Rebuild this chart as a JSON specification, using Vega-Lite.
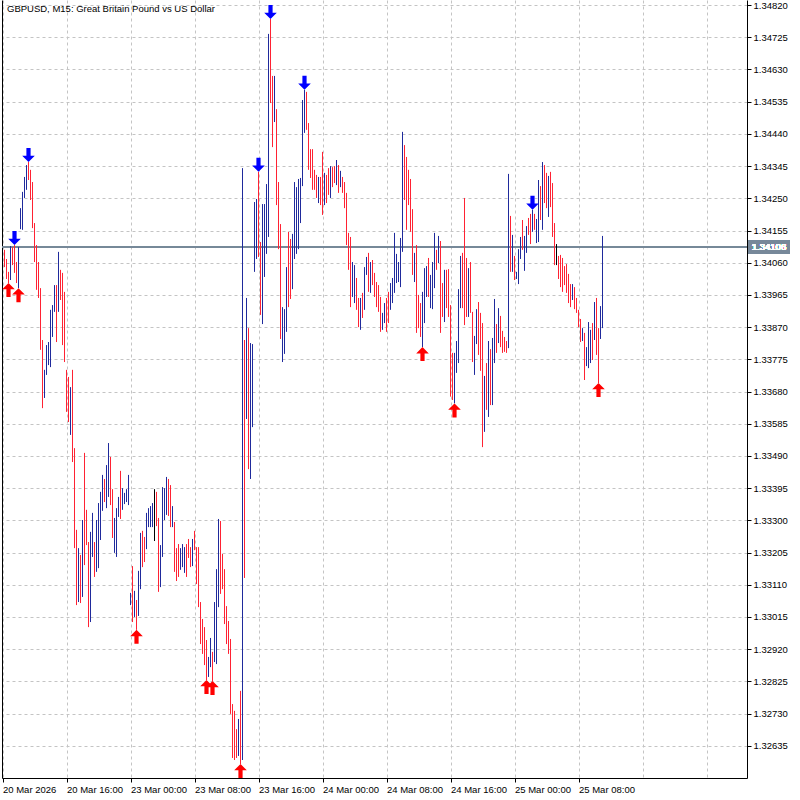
{
  "$schema": "https://vega.github.io/schema/vega-lite/v6.json",
  "width": 745,
  "height": 778,
  "autosize": {"type": "none"},
  "padding": {"left": 2, "top": 0, "right": 53, "bottom": 22},
  "background": "white",
  "config": {
    "view": {"stroke": null},
    "font": "Liberation Sans",
    "axis": {"labelFont": "Liberation Sans", "labelFontSize": 9.5, "labelColor": "black", "domainColor": "black", "tickColor": "black", "gridColor": "#c4c4c4", "gridDash": [3, 3], "title": null}
  },
  "title": {"text": "GBPUSD, M15:  Great Britain Pound vs US Dollar", "anchor": "start", "frame": "group", "orient": "top", "offset": -13, "dx": 5, "font": "Liberation Sans", "fontSize": 9.5, "fontWeight": "normal", "color": "black"},
  "data": {"values": [
    {"k":1,"d":"dn","h":1.34098,"l":1.34047},
    {"k":2,"d":"dn","h":1.34071,"l":1.34012},
    {"k":3,"d":"dn","h":1.34033,"l":1.34000,"f":"lo"},
    {"k":4,"d":"up","h":1.34109,"l":1.34009},
    {"k":5,"d":"dn","h":1.34106,"l":1.34053},
    {"k":6,"d":"dn","h":1.34112,"l":1.34030,"f":"hi"},
    {"k":7,"d":"dn","h":1.34062,"l":1.34000},
    {"k":8,"d":"up","h":1.34106,"l":1.33985,"f":"lo"},
    {"k":9,"d":"up","h":1.34221,"l":1.34159},
    {"k":10,"d":"up","h":1.34269,"l":1.34157},
    {"k":11,"d":"up","h":1.34313,"l":1.34251},
    {"k":12,"d":"up","h":1.34348,"l":1.34275},
    {"k":13,"d":"dn","h":1.34357,"l":1.34304,"f":"hi"},
    {"k":14,"d":"dn","h":1.34334,"l":1.34245},
    {"k":15,"d":"dn","h":1.34298,"l":1.34162},
    {"k":16,"d":"dn","h":1.34177,"l":1.34062},
    {"k":17,"d":"dn","h":1.34112,"l":1.33980},
    {"k":18,"d":"dn","h":1.34062,"l":1.33956},
    {"k":19,"d":"dn","h":1.33985,"l":1.33803},
    {"k":20,"d":"dn","h":1.33832,"l":1.33631},
    {"k":21,"d":"up","h":1.33744,"l":1.33661},
    {"k":22,"d":"up","h":1.33817,"l":1.33729},
    {"k":23,"d":"up","h":1.33826,"l":1.33758},
    {"k":24,"d":"up","h":1.33921,"l":1.33752},
    {"k":25,"d":"up","h":1.33935,"l":1.33841},
    {"k":26,"d":"up","h":1.33994,"l":1.33915},
    {"k":27,"d":"dn","h":1.33994,"l":1.33826},
    {"k":28,"d":"up","h":1.34092,"l":1.33915},
    {"k":29,"d":"dn","h":1.34039,"l":1.33950},
    {"k":30,"d":"dn","h":1.34030,"l":1.33817},
    {"k":31,"d":"dn","h":1.33974,"l":1.33767},
    {"k":32,"d":"dn","h":1.33744,"l":1.33620},
    {"k":33,"d":"dn","h":1.33723,"l":1.33590},
    {"k":34,"d":"up","h":1.33693,"l":1.33552},
    {"k":35,"d":"dn","h":1.33744,"l":1.33472},
    {"k":36,"d":"dn","h":1.33513,"l":1.33218},
    {"k":37,"d":"dn","h":1.33272,"l":1.33050},
    {"k":38,"d":"up","h":1.33218,"l":1.33059},
    {"k":39,"d":"dn","h":1.33198,"l":1.33056},
    {"k":40,"d":"up","h":1.33301,"l":1.33074},
    {"k":41,"d":"dn","h":1.33499,"l":1.33168},
    {"k":42,"d":"dn","h":1.33331,"l":1.33227},
    {"k":43,"d":"dn","h":1.33236,"l":1.32985},
    {"k":44,"d":"up","h":1.33266,"l":1.33000},
    {"k":45,"d":"up","h":1.33322,"l":1.33192},
    {"k":46,"d":"dn","h":1.33236,"l":1.33133},
    {"k":47,"d":"up","h":1.33301,"l":1.33148},
    {"k":48,"d":"up","h":1.33351,"l":1.33159},
    {"k":49,"d":"up","h":1.33384,"l":1.33242},
    {"k":50,"d":"up","h":1.33434,"l":1.33328},
    {"k":51,"d":"dn","h":1.33422,"l":1.33354},
    {"k":52,"d":"up","h":1.33463,"l":1.33336},
    {"k":53,"d":"up","h":1.33528,"l":1.33369},
    {"k":54,"d":"dn","h":1.33487,"l":1.33345},
    {"k":55,"d":"dn","h":1.33392,"l":1.33248},
    {"k":56,"d":"up","h":1.33307,"l":1.33204},
    {"k":57,"d":"up","h":1.33336,"l":1.33192},
    {"k":58,"d":"up","h":1.33369,"l":1.33310},
    {"k":59,"d":"dn","h":1.33446,"l":1.33304},
    {"k":60,"d":"up","h":1.33395,"l":1.33331},
    {"k":61,"d":"up","h":1.33381,"l":1.33348},
    {"k":62,"d":"up","h":1.33392,"l":1.33354},
    {"k":63,"d":"up","h":1.33434,"l":1.33345},
    {"k":64,"d":"up","h":1.33086,"l":1.33050},
    {"k":65,"d":"dn","h":1.33165,"l":1.33000},
    {"k":66,"d":"up","h":1.33092,"l":1.33015},
    {"k":67,"d":"dn","h":1.33065,"l":1.32977,"f":"lo"},
    {"k":68,"d":"up","h":1.33151,"l":1.33018},
    {"k":69,"d":"up","h":1.33263,"l":1.33097},
    {"k":70,"d":"dn","h":1.33269,"l":1.33162},
    {"k":71,"d":"dn","h":1.33251,"l":1.33177},
    {"k":72,"d":"up","h":1.33322,"l":1.33215},
    {"k":73,"d":"up","h":1.33336,"l":1.33280},
    {"k":74,"d":"up","h":1.33342,"l":1.33280},
    {"k":75,"d":"up","h":1.33351,"l":1.33280},
    {"k":76,"d":"dj","h":1.33392,"l":1.33239},
    {"k":77,"d":"dn","h":1.33384,"l":1.33283},
    {"k":78,"d":"dn","h":1.33307,"l":1.33089},
    {"k":79,"d":"up","h":1.33227,"l":1.33103},
    {"k":80,"d":"up","h":1.33398,"l":1.33192},
    {"k":81,"d":"up","h":1.33395,"l":1.33301},
    {"k":82,"d":"up","h":1.33428,"l":1.33316},
    {"k":83,"d":"dn","h":1.33422,"l":1.33313},
    {"k":84,"d":"dn","h":1.33404,"l":1.33280},
    {"k":85,"d":"up","h":1.33342,"l":1.33280},
    {"k":86,"d":"dn","h":1.33295,"l":1.33148},
    {"k":87,"d":"dn","h":1.33218,"l":1.33121},
    {"k":88,"d":"dn","h":1.33230,"l":1.33133},
    {"k":89,"d":"up","h":1.33218,"l":1.33154},
    {"k":90,"d":"up","h":1.33230,"l":1.33162},
    {"k":91,"d":"up","h":1.33221,"l":1.33145},
    {"k":92,"d":"dn","h":1.33230,"l":1.33133},
    {"k":93,"d":"dn","h":1.33245,"l":1.33189},
    {"k":94,"d":"dn","h":1.33221,"l":1.33162},
    {"k":95,"d":"up","h":1.33245,"l":1.33165},
    {"k":96,"d":"dn","h":1.33269,"l":1.33212},
    {"k":97,"d":"dn","h":1.33221,"l":1.33112},
    {"k":98,"d":"dn","h":1.33221,"l":1.33044},
    {"k":99,"d":"dn","h":1.33059,"l":1.32935},
    {"k":100,"d":"dn","h":1.33009,"l":1.32906},
    {"k":101,"d":"dn","h":1.32985,"l":1.32873},
    {"k":102,"d":"dn","h":1.32947,"l":1.32829,"f":"lo"},
    {"k":103,"d":"up","h":1.32897,"l":1.32838},
    {"k":104,"d":"up","h":1.32953,"l":1.32867},
    {"k":105,"d":"dn","h":1.32912,"l":1.32826,"f":"lo"},
    {"k":106,"d":"up","h":1.33059,"l":1.32882},
    {"k":107,"d":"up","h":1.33156,"l":1.32876},
    {"k":108,"d":"up","h":1.33304,"l":1.33044},
    {"k":109,"d":"dn","h":1.33298,"l":1.33083},
    {"k":110,"d":"dn","h":1.33201,"l":1.33097},
    {"k":111,"d":"dn","h":1.33156,"l":1.32994},
    {"k":112,"d":"dn","h":1.33047,"l":1.32935},
    {"k":113,"d":"dn","h":1.33003,"l":1.32906},
    {"k":114,"d":"dn","h":1.32950,"l":1.32729},
    {"k":115,"d":"dn","h":1.32758,"l":1.32599},
    {"k":116,"d":"dn","h":1.32738,"l":1.32593},
    {"k":117,"d":"dn","h":1.32684,"l":1.32599},
    {"k":118,"d":"up","h":1.32714,"l":1.32605},
    {"k":119,"d":"dn","h":1.32797,"l":1.32581,"f":"lo"},
    {"k":120,"d":"up","h":1.34339,"l":1.32593},
    {"k":121,"d":"dn","h":1.33832,"l":1.33130},
    {"k":122,"d":"up","h":1.33956,"l":1.33599},
    {"k":123,"d":"dn","h":1.33867,"l":1.33451},
    {"k":124,"d":"up","h":1.33823,"l":1.33422},
    {"k":125,"d":"up","h":1.33820,"l":1.33575},
    {"k":126,"d":"up","h":1.34239,"l":1.34033},
    {"k":127,"d":"up","h":1.34248,"l":1.34071},
    {"k":128,"d":"dn","h":1.34328,"l":1.34077,"f":"hi"},
    {"k":129,"d":"dn","h":1.34121,"l":1.33906},
    {"k":130,"d":"up","h":1.34233,"l":1.33879},
    {"k":131,"d":"up","h":1.34233,"l":1.34018},
    {"k":132,"d":"up","h":1.34292,"l":1.34086},
    {"k":133,"d":"up","h":1.34735,"l":1.34136},
    {"k":134,"d":"dn","h":1.34779,"l":1.34531,"f":"hi"},
    {"k":135,"d":"dn","h":1.34611,"l":1.34401},
    {"k":136,"d":"up","h":1.34611,"l":1.34475},
    {"k":137,"d":"dn","h":1.34513,"l":1.34230},
    {"k":138,"d":"dn","h":1.34298,"l":1.34100},
    {"k":139,"d":"dn","h":1.34174,"l":1.33835},
    {"k":140,"d":"up","h":1.33929,"l":1.33767},
    {"k":141,"d":"up","h":1.33923,"l":1.33791},
    {"k":142,"d":"up","h":1.34047,"l":1.33856},
    {"k":143,"d":"dn","h":1.34151,"l":1.33929},
    {"k":144,"d":"dn","h":1.34130,"l":1.33953},
    {"k":145,"d":"up","h":1.34145,"l":1.33982},
    {"k":146,"d":"up","h":1.34298,"l":1.34071},
    {"k":147,"d":"up","h":1.34283,"l":1.34086},
    {"k":148,"d":"up","h":1.34307,"l":1.34100},
    {"k":149,"d":"up","h":1.34310,"l":1.34177},
    {"k":150,"d":"up","h":1.34540,"l":1.34286},
    {"k":151,"d":"up","h":1.34570,"l":1.34443,"f":"hi"},
    {"k":152,"d":"dn","h":1.34564,"l":1.34452},
    {"k":153,"d":"dn","h":1.34472,"l":1.34334},
    {"k":154,"d":"dn","h":1.34395,"l":1.34310},
    {"k":155,"d":"dn","h":1.34395,"l":1.34275},
    {"k":156,"d":"dn","h":1.34334,"l":1.34275},
    {"k":157,"d":"dn","h":1.34319,"l":1.34251},
    {"k":158,"d":"up","h":1.34313,"l":1.34236},
    {"k":159,"d":"dn","h":1.34313,"l":1.34230},
    {"k":160,"d":"dn","h":1.34387,"l":1.34201},
    {"k":161,"d":"up","h":1.34325,"l":1.34230},
    {"k":162,"d":"dn","h":1.34319,"l":1.34236},
    {"k":163,"d":"dn","h":1.34339,"l":1.34260},
    {"k":164,"d":"up","h":1.34345,"l":1.34251},
    {"k":165,"d":"dn","h":1.34342,"l":1.34283},
    {"k":166,"d":"dn","h":1.34345,"l":1.34295},
    {"k":167,"d":"up","h":1.34363,"l":1.34289},
    {"k":168,"d":"dn","h":1.34348,"l":1.34266},
    {"k":169,"d":"up","h":1.34331,"l":1.34283},
    {"k":170,"d":"dn","h":1.34313,"l":1.34266},
    {"k":171,"d":"dn","h":1.34298,"l":1.34221},
    {"k":172,"d":"dn","h":1.34266,"l":1.34112},
    {"k":173,"d":"dn","h":1.34148,"l":1.34039},
    {"k":174,"d":"dn","h":1.34136,"l":1.33929},
    {"k":175,"d":"up","h":1.34062,"l":1.33959},
    {"k":176,"d":"up","h":1.34053,"l":1.33941},
    {"k":177,"d":"dn","h":1.34015,"l":1.33921},
    {"k":178,"d":"dn","h":1.33956,"l":1.33870},
    {"k":179,"d":"up","h":1.33956,"l":1.33862},
    {"k":180,"d":"dn","h":1.33971,"l":1.33897},
    {"k":181,"d":"up","h":1.34047,"l":1.33921},
    {"k":182,"d":"up","h":1.34077,"l":1.34024},
    {"k":183,"d":"dn","h":1.34089,"l":1.33974},
    {"k":184,"d":"up","h":1.34062,"l":1.33971},
    {"k":185,"d":"dn","h":1.34068,"l":1.33994},
    {"k":186,"d":"dn","h":1.34030,"l":1.33959},
    {"k":187,"d":"dn","h":1.34003,"l":1.33929},
    {"k":188,"d":"dn","h":1.33994,"l":1.33915},
    {"k":189,"d":"dn","h":1.33959,"l":1.33856},
    {"k":190,"d":"up","h":1.33912,"l":1.33862},
    {"k":191,"d":"up","h":1.33941,"l":1.33882},
    {"k":192,"d":"dn","h":1.33956,"l":1.33856},
    {"k":193,"d":"dn","h":1.33974,"l":1.33882},
    {"k":194,"d":"up","h":1.34000,"l":1.33921},
    {"k":195,"d":"up","h":1.34015,"l":1.33941},
    {"k":196,"d":"up","h":1.34148,"l":1.33971},
    {"k":197,"d":"up","h":1.34086,"l":1.34000},
    {"k":198,"d":"up","h":1.34062,"l":1.34003},
    {"k":199,"d":"up","h":1.34133,"l":1.33988},
    {"k":200,"d":"up","h":1.34446,"l":1.34092},
    {"k":201,"d":"dn","h":1.34407,"l":1.34245},
    {"k":202,"d":"dn","h":1.34372,"l":1.34157},
    {"k":203,"d":"dn","h":1.34334,"l":1.34230},
    {"k":204,"d":"dn","h":1.34307,"l":1.34151},
    {"k":205,"d":"dn","h":1.34218,"l":1.34024},
    {"k":206,"d":"up","h":1.34089,"l":1.34003},
    {"k":207,"d":"dn","h":1.34112,"l":1.33853},
    {"k":208,"d":"dn","h":1.33965,"l":1.33867},
    {"k":209,"d":"dn","h":1.33941,"l":1.33841},
    {"k":210,"d":"up","h":1.33974,"l":1.33811,"f":"lo"},
    {"k":211,"d":"up","h":1.34044,"l":1.33882},
    {"k":212,"d":"up","h":1.34050,"l":1.33959},
    {"k":213,"d":"dn","h":1.34074,"l":1.33959},
    {"k":214,"d":"up","h":1.34024,"l":1.33926},
    {"k":215,"d":"up","h":1.34062,"l":1.33923},
    {"k":216,"d":"up","h":1.34148,"l":1.33985},
    {"k":217,"d":"dn","h":1.34098,"l":1.34039},
    {"k":218,"d":"up","h":1.34139,"l":1.34059},
    {"k":219,"d":"dn","h":1.34124,"l":1.33853},
    {"k":220,"d":"dn","h":1.34000,"l":1.33900},
    {"k":221,"d":"up","h":1.34039,"l":1.33885},
    {"k":222,"d":"dn","h":1.34039,"l":1.33926},
    {"k":223,"d":"dn","h":1.34041,"l":1.33900},
    {"k":224,"d":"dn","h":1.33935,"l":1.33665},
    {"k":225,"d":"dn","h":1.33794,"l":1.33655},
    {"k":226,"d":"up","h":1.33794,"l":1.33645,"f":"lo"},
    {"k":227,"d":"up","h":1.33829,"l":1.33735},
    {"k":228,"d":"up","h":1.33982,"l":1.33764},
    {"k":229,"d":"up","h":1.34080,"l":1.33926},
    {"k":230,"d":"dn","h":1.34089,"l":1.33926},
    {"k":231,"d":"dn","h":1.34251,"l":1.33876},
    {"k":232,"d":"dn","h":1.34074,"l":1.33900},
    {"k":233,"d":"up","h":1.34044,"l":1.33900},
    {"k":234,"d":"dn","h":1.34062,"l":1.33912},
    {"k":235,"d":"dn","h":1.33915,"l":1.33767},
    {"k":236,"d":"up","h":1.33844,"l":1.33729},
    {"k":237,"d":"up","h":1.33923,"l":1.33820},
    {"k":238,"d":"dn","h":1.33944,"l":1.33788},
    {"k":239,"d":"dn","h":1.33912,"l":1.33741},
    {"k":240,"d":"dn","h":1.33882,"l":1.33516},
    {"k":241,"d":"up","h":1.33726,"l":1.33561},
    {"k":242,"d":"dn","h":1.33764,"l":1.33626},
    {"k":243,"d":"up","h":1.33829,"l":1.33605},
    {"k":244,"d":"dn","h":1.33805,"l":1.33640},
    {"k":245,"d":"up","h":1.33838,"l":1.33640},
    {"k":246,"d":"up","h":1.33953,"l":1.33764},
    {"k":247,"d":"dn","h":1.33879,"l":1.33794},
    {"k":248,"d":"up","h":1.33926,"l":1.33823},
    {"k":249,"d":"dn","h":1.33903,"l":1.33811},
    {"k":250,"d":"dn","h":1.33859,"l":1.33794},
    {"k":251,"d":"dn","h":1.33841,"l":1.33797},
    {"k":252,"d":"dn","h":1.33829,"l":1.33794},
    {"k":253,"d":"up","h":1.34322,"l":1.33808},
    {"k":254,"d":"dn","h":1.34198,"l":1.34033},
    {"k":255,"d":"up","h":1.34142,"l":1.34033},
    {"k":256,"d":"dn","h":1.34080,"l":1.34009},
    {"k":257,"d":"up","h":1.34033,"l":1.34012},
    {"k":258,"d":"up","h":1.34100,"l":1.33997},
    {"k":259,"d":"up","h":1.34136,"l":1.34071},
    {"k":260,"d":"dn","h":1.34186,"l":1.34098},
    {"k":261,"d":"up","h":1.34139,"l":1.34036},
    {"k":262,"d":"up","h":1.34168,"l":1.34089},
    {"k":263,"d":"dn","h":1.34192,"l":1.34142},
    {"k":264,"d":"dn","h":1.34204,"l":1.34115},
    {"k":265,"d":"up","h":1.34216,"l":1.34151,"f":"hi"},
    {"k":266,"d":"dn","h":1.34204,"l":1.34157},
    {"k":267,"d":"up","h":1.34189,"l":1.34118},
    {"k":268,"d":"up","h":1.34304,"l":1.34121},
    {"k":269,"d":"dn","h":1.34286,"l":1.34186},
    {"k":270,"d":"up","h":1.34357,"l":1.34157},
    {"k":271,"d":"dn","h":1.34348,"l":1.34236},
    {"k":272,"d":"dn","h":1.34325,"l":1.34221},
    {"k":273,"d":"up","h":1.34316,"l":1.34195},
    {"k":274,"d":"dn","h":1.34328,"l":1.34224},
    {"k":275,"d":"dn","h":1.34295,"l":1.34136},
    {"k":276,"d":"dn","h":1.34177,"l":1.34053},
    {"k":277,"d":"dj","h":1.34115,"l":1.34053},
    {"k":278,"d":"dn","h":1.34080,"l":1.34012},
    {"k":279,"d":"dn","h":1.34083,"l":1.33988},
    {"k":280,"d":"dn","h":1.34074,"l":1.33974},
    {"k":281,"d":"dn","h":1.34050,"l":1.33994},
    {"k":282,"d":"dn","h":1.34056,"l":1.33971},
    {"k":283,"d":"dn","h":1.34027,"l":1.33941},
    {"k":284,"d":"dn","h":1.33997,"l":1.33929},
    {"k":285,"d":"up","h":1.33997,"l":1.33950},
    {"k":286,"d":"dn","h":1.33988,"l":1.33923},
    {"k":287,"d":"dn","h":1.33956,"l":1.33912},
    {"k":288,"d":"dn","h":1.33921,"l":1.33870},
    {"k":289,"d":"dn","h":1.33894,"l":1.33826},
    {"k":290,"d":"up","h":1.33867,"l":1.33829},
    {"k":291,"d":"dn","h":1.33853,"l":1.33714},
    {"k":292,"d":"up","h":1.33811,"l":1.33755},
    {"k":293,"d":"up","h":1.33885,"l":1.33749},
    {"k":294,"d":"up","h":1.33862,"l":1.33764},
    {"k":295,"d":"dn","h":1.33882,"l":1.33773},
    {"k":296,"d":"up","h":1.33944,"l":1.33832},
    {"k":297,"d":"dn","h":1.33956,"l":1.33788},
    {"k":298,"d":"dn","h":1.33867,"l":1.33705,"f":"lo"},
    {"k":299,"d":"up","h":1.33932,"l":1.33835},
    {"k":300,"d":"up","h":1.34139,"l":1.33867}
  ]},
  "resolve": {"axis": {"y": "independent"}},
  "layer": [
    {
      "mark": {"type": "rule", "color": "#778899", "strokeWidth": 1},
      "encoding": {
        "y": {"datum": 1.34106, "type": "quantitative", "scale": {"domain": [1.325399, 1.34835], "nice": false, "zero": false},
              "axis": {"orient": "left", "labels": false, "ticks": false, "grid": false, "domain": true}}
      }
    },
    {
      "mark": {"type": "rule", "strokeWidth": 1},
      "encoding": {
        "x": {"field": "k", "type": "quantitative", "scale": {"domain": [-0.25, 372.25], "nice": false, "zero": false},
              "axis": {"orient": "bottom", "values": [0,16,32,48,64,80,96,112,128,144,160,176,192,208,224,240,256,272,288,304,320,336,352,368],
                       "grid": true, "tickSize": 4,
                       "tickOpacity": {"condition": {"test": "datum.value % 32 === 0 && datum.value <= 288", "value": 1}, "value": 0},
                       "labelExpr": "(datum.value % 32 === 0 && datum.value <= 288) ? ['20 Mar 2026','20 Mar 16:00','23 Mar 00:00','23 Mar 08:00','23 Mar 16:00','24 Mar 00:00','24 Mar 08:00','24 Mar 16:00','25 Mar 00:00','25 Mar 08:00'][datum.value / 32] : ''",
                       "labelAlign": "left", "labelPadding": 2, "labelOverlap": false, "labelFlush": false, "labelBound": false}},
        "y": {"field": "l", "type": "quantitative", "scale": {"domain": [1.325399, 1.34835], "nice": false, "zero": false},
              "axis": {"orient": "right", "values": [1.32635,1.3273,1.32825,1.3292,1.33015,1.3311,1.33205,1.333,1.33395,1.3349,1.33585,1.3368,1.33775,1.3387,1.33965,1.3406,1.34155,1.3425,1.34345,1.3444,1.34535,1.3463,1.34725,1.3482],
                       "format": ".5f", "grid": true, "tickSize": 4, "labelPadding": 2, "labelOverlap": false, "labelFlush": false, "labelBound": false}},
        "y2": {"field": "h"},
        "color": {"field": "d", "type": "nominal", "scale": {"domain": ["up", "dn", "dj"], "range": ["#1f2a9c", "#ff2233", "#000000"]}, "legend": null}
      }
    },
    {
      "transform": [{"filter": "datum.f === 'hi'"}],
      "mark": {"type": "point", "filled": true, "opacity": 1, "size": 196, "yOffset": -7, "color": "#0000ff",
               "shape": "M-0.3,-1 L0.3,-1 L0.3,0.1 L0.9,0.1 L0,1 L-0.9,0.1 L-0.3,0.1 Z"},
      "encoding": {
        "x": {"field": "k", "type": "quantitative"},
        "y": {"field": "h", "type": "quantitative", "axis": null}
      }
    },
    {
      "transform": [{"filter": "datum.f === 'lo'"}],
      "mark": {"type": "point", "filled": true, "opacity": 1, "size": 196, "yOffset": 7, "color": "#ff0000",
               "shape": "M-0.3,1 L0.3,1 L0.3,-0.1 L0.9,-0.1 L0,-1 L-0.9,-0.1 L-0.3,-0.1 Z"},
      "encoding": {
        "x": {"field": "k", "type": "quantitative"},
        "y": {"field": "l", "type": "quantitative", "axis": null}
      }
    },
    {
      "mark": {"type": "tick", "orient": "horizontal", "color": "#778899", "opacity": 1, "size": 42, "thickness": 13},
      "encoding": {
        "x": {"datum": 383.25, "type": "quantitative"},
        "y": {"datum": 1.34106, "type": "quantitative", "axis": null}
      }
    },
    {
      "mark": {"type": "text", "color": "white", "font": "Liberation Sans", "fontSize": 9.5, "align": "center", "baseline": "middle"},
      "encoding": {
        "x": {"datum": 383.25, "type": "quantitative"},
        "y": {"datum": 1.34106, "type": "quantitative", "axis": null},
        "text": {"value": "1.34106"}
      }
    }
  ]
}
